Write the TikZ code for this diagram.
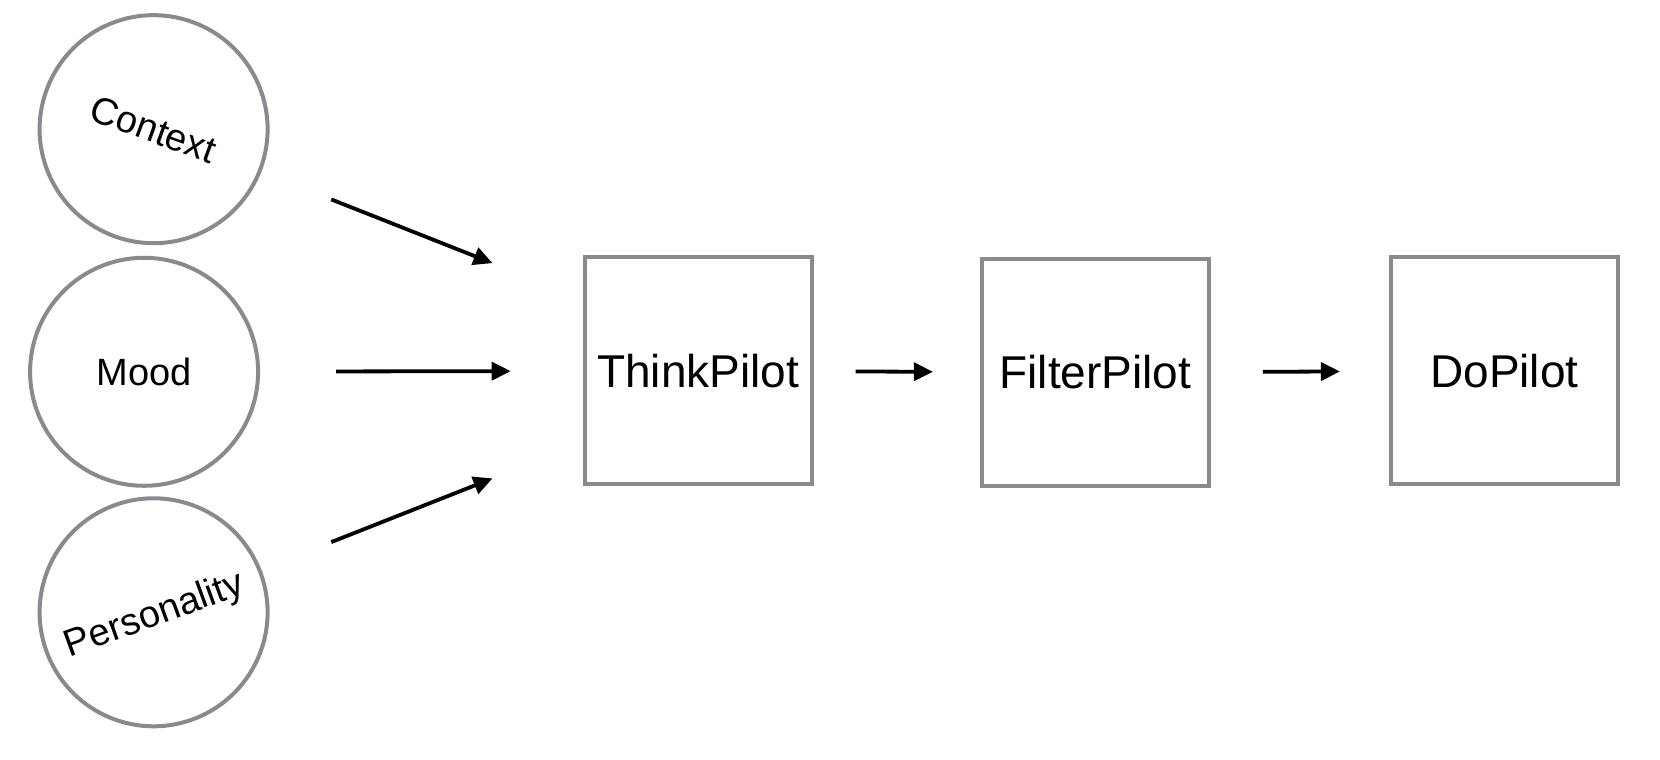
\documentclass[tikz,border=0pt]{standalone}
\usepackage{fontspec}
\setmainfont{Liberation Sans}
\usetikzlibrary{arrows.meta}
\definecolor{rimgray}{RGB}{136,138,143}
\tikzset{
  driver/.style={circle,draw=rimgray,line width=4pt,minimum size=228pt,inner sep=0pt,text depth=0pt,font=\fontsize{38}{40}\selectfont},
  pilot/.style={rectangle,draw=rimgray,line width=4pt,minimum size=227pt,inner sep=0pt,font=\fontsize{46}{50}\selectfont},
  feed/.style={-{Triangle[length=19pt,width=18pt]},line width=3.8pt,black}
}
\newcommand{\drivernode}[4]{%
 \node[driver,rotate=#3] (#1) at (#2) {#4}%
}
\newcommand{\pilotnode}[3]{%
 \node[pilot] (#1) at (#2) {#3}%
}
\begin{document}
\begin{tikzpicture}[x=1pt,y=1pt]
  \useasboundingbox (0,0) rectangle (1660,760);
  \drivernode{ctx}{153.6,630.8}{-20}{Context};
  \drivernode{mood}{144.1,388.2}{0}{Mood};
  \drivernode{pers}{153.6,147.7}{20}{Personality};
  \pilotnode{think}{698.2,389.2}{ThinkPilot};
  \pilotnode{filter}{1095.4,387.5}{FilterPilot};
  \pilotnode{do}{1504.4,389.2}{DoPilot};
  \draw[feed,shorten <=75pt,shorten >=97pt] (ctx) -- ([yshift=72pt]think.west);
  \draw[feed,shorten <=76pt,shorten >=72pt] (mood) -- (think);
  \draw[feed,shorten <=75pt,shorten >=97pt] (pers) -- ([yshift=-72pt]think.west);
  \draw[feed,shorten <=42pt,shorten >=47pt] (think) -- (filter);
  \draw[feed,shorten <=52pt,shorten >=49pt] (filter) -- (do);
\end{tikzpicture}
\end{document}
